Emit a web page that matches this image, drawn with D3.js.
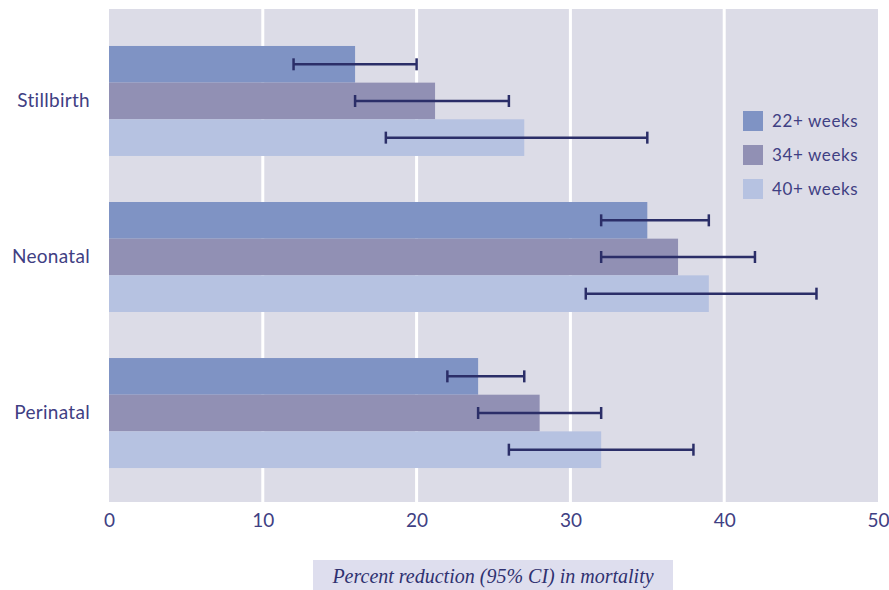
<!DOCTYPE html>
<html>
<head>
<meta charset="utf-8">
<script src="https://cdn.jsdelivr.net/npm/d3@7"></script>
<style>
  html, body { margin: 0; padding: 0; background: #ffffff; }
  svg { display: block; }
</style>
</head>
<body>
<svg id="chart" width="889" height="590"></svg>
<script>
// Outcomes shown as bar groups (top to bottom)
const outcomes = ["Stillbirth", "Neonatal", "Perinatal"];
// Gestational-age series
const seriesNames = ["22+ weeks", "34+ weeks", "40+ weeks"];
const seriesColors = ["#7f93c4", "#9190b4", "#b6c2e1"];
// Percent reduction point estimates, one array per series (Stillbirth, Neonatal, Perinatal)
const est22 = [16, 35, 24];
const est34 = [21.2, 37, 28];
const est40 = [27, 39, 32];
// 95% CI lower / upper bounds
const lo22 = [12, 32, 22];
const hi22 = [20, 39, 27];
const lo34 = [16, 32, 24];
const hi34 = [26, 42, 32];
const lo40 = [18, 31, 26];
const hi40 = [35, 46, 38];
const xTicks = [0, 10, 20, 30, 40, 50];

const estimates = [est22, est34, est40];
const lows = [lo22, lo34, lo40];
const highs = [hi22, hi34, hi40];

const rows = [];
outcomes.forEach((o, i) => {
  seriesNames.forEach((s, j) => {
    rows.push({ outcome: o, series: s, si: j, value: estimates[j][i], lo: lows[j][i], hi: highs[j][i] });
  });
});

const svg = d3.select("#chart");
const plotLeft = 109, plotRight = 878, plotTop = 9, plotBottom = 502;

const x = d3.scaleLinear().domain([0, 50]).range([plotLeft, plotRight]);
const y0 = d3.scaleBand().domain(outcomes).range([plotTop, plotBottom + 3]).paddingInner(0.295).paddingOuter(0.237);
const y1 = d3.scaleBand().domain(seriesNames).range([0, y0.bandwidth()]);

const textColor = "#3f4083";
const fontSans = "'Lato', 'Noto Sans', sans-serif";

// Plot background
svg.append("rect")
  .attr("x", plotLeft).attr("y", plotTop)
  .attr("width", plotRight - plotLeft).attr("height", plotBottom - plotTop)
  .attr("fill", "#dcdce7");

// Vertical grid lines
svg.append("g").selectAll("line")
  .data(xTicks.filter(t => t > 0 && t < 50))
  .join("line")
  .attr("x1", d => x(d)).attr("x2", d => x(d))
  .attr("y1", plotTop).attr("y2", plotBottom)
  .attr("stroke", "#ffffff").attr("stroke-width", 3);

// Bars
svg.append("g").selectAll("rect")
  .data(rows)
  .join("rect")
  .attr("x", x(0))
  .attr("y", d => y0(d.outcome) + y1(d.series))
  .attr("width", d => x(d.value) - x(0))
  .attr("height", y1.bandwidth())
  .attr("fill", d => seriesColors[d.si]);

// Error bars
const eb = svg.append("g").attr("stroke", "#2b2e68").attr("stroke-width", 2.5);
rows.forEach(d => {
  const cy = y0(d.outcome) + y1(d.series) + y1.bandwidth() / 2;
  eb.append("line").attr("x1", x(d.lo)).attr("x2", x(d.hi)).attr("y1", cy).attr("y2", cy);
  eb.append("line").attr("x1", x(d.lo)).attr("x2", x(d.lo)).attr("y1", cy - 6).attr("y2", cy + 6);
  eb.append("line").attr("x1", x(d.hi)).attr("x2", x(d.hi)).attr("y1", cy - 6).attr("y2", cy + 6);
});

// X axis tick labels
const xAxis = d3.axisBottom(x).tickValues(xTicks).tickSize(0).tickPadding(0);
const gx = svg.append("g").attr("transform", `translate(0, ${plotBottom + 11})`).call(xAxis);
gx.select(".domain").remove();
gx.selectAll("text")
  .attr("fill", textColor)
  .style("font-family", fontSans)
  .style("font-size", "19px")
  .attr("dy", "0.71em");

// Category labels
const yAxis = d3.axisLeft(y0).tickSize(0).tickPadding(19);
const gy = svg.append("g").attr("transform", `translate(${plotLeft}, 0)`).call(yAxis);
gy.select(".domain").remove();
gy.selectAll("text")
  .attr("fill", textColor)
  .style("font-family", fontSans)
  .style("font-size", "19px")
  .style("letter-spacing", "0.3px");

// Legend
const legend = svg.append("g").attr("transform", "translate(743, 111)");
seriesNames.forEach((s, j) => {
  const g = legend.append("g").attr("transform", `translate(0, ${j * 34})`);
  g.append("rect").attr("width", 20).attr("height", 20).attr("fill", seriesColors[j]);
  g.append("text")
    .attr("x", 29).attr("y", 10).attr("dy", "0.35em")
    .attr("fill", textColor)
    .style("font-family", fontSans)
    .style("font-size", "17px")
    .style("letter-spacing", "0.6px")
    .text(s);
});

// Axis title box
svg.append("rect")
  .attr("x", 313).attr("y", 560).attr("width", 360).attr("height", 30)
  .attr("fill", "#dedeee");
svg.append("text")
  .attr("x", 493).attr("y", 583)
  .attr("text-anchor", "middle")
  .attr("fill", "#2f3170")
  .style("font-family", "'Liberation Serif', 'DejaVu Serif', serif")
  .style("font-style", "italic")
  .style("font-size", "20px")
  .text("Percent reduction (95% CI) in mortality");
</script>
</body>
</html>
